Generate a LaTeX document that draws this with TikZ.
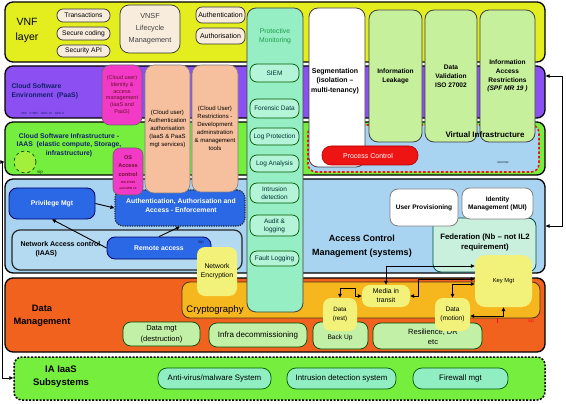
\documentclass[tikz,border=0pt]{standalone}
\usepackage{fontspec}
\setmainfont{Liberation Sans}
\usetikzlibrary{arrows.meta,calc}
\definecolor{cyel}{HTML}{E4EE1E}
\definecolor{cpur}{HTML}{8C50F2}
\definecolor{cgrn}{HTML}{76EE3E}
\definecolor{cblu}{HTML}{A8D4F2}
\definecolor{cnac}{HTML}{B4DAF2}
\definecolor{cora}{HTML}{F0621E}
\definecolor{camb}{HTML}{F6B61E}
\definecolor{cly}{HTML}{F2F27A}
\definecolor{cmint}{HTML}{96EEC4}
\definecolor{cmintp}{HTML}{B4F4D8}
\definecolor{clg}{HTML}{C6F09C}
\definecolor{cpink}{HTML}{F23AC6}
\definecolor{csal}{HTML}{F6C09E}
\definecolor{cbbox}{HTML}{2A68E6}
\definecolor{ccream}{HTML}{F8ECDC}
\definecolor{cpillg}{HTML}{C2F0A6}
\definecolor{cpilli}{HTML}{90EEC2}
\definecolor{cnavy}{HTML}{10206A}
\definecolor{cfed}{HTML}{C8F0DC}
\definecolor{cmaroon}{HTML}{701030}
\definecolor{ctxtg}{HTML}{1E9A4A}
\definecolor{cpred}{HTML}{EE1414}
\definecolor{csipc}{HTML}{A4EE3C}
\newcommand{\fsz}[2]{\fontsize{#1}{#2}\selectfont}
\newcommand{\mybox}[7]{\node[#2, inner sep=0pt, minimum width={(#5-#3)*1pt}, minimum height={(#6-#4)*1pt}] (#1) at ({(#3+#5)/2},{(#4+#6)/2}) {#7};}
\begin{document}
\begin{tikzpicture}[x=1pt,y=-1pt,
  every node/.style={align=center},
  lay/.style={draw=black, line width=1.3pt, rounded corners=8pt},
  col/.style={draw=black!75, line width=0.8pt, rounded corners=9pt},
  infocol/.style={col, fill=clg, font=\bfseries\fsz{6.6}{8.8}},
  ypill/.style={draw=black!80, line width=0.7pt, fill=ccream, rounded corners=6pt, font=\fsz{6.7}{8}},
  pmpill/.style={draw=green!35!black, line width=0.7pt, fill=cmintp, rounded corners=7pt, font=\fsz{6.5}{7.8}, text=teal!40!black},
  opill/.style={draw=green!30!black, line width=0.7pt, fill=cpillg, rounded corners=8pt, font=\fsz{7.5}{10.5}},
  ipill/.style={draw=green!35!black, line width=0.7pt, fill=cpilli, rounded corners=9pt, font=\fsz{7.9}{9}},
  bluebox/.style={draw=black!60!blue, line width=0.8pt, fill=cbbox, rounded corners=8pt, text=white, font=\bfseries\fsz{6.8}{8}},
  whitebox/.style={draw=black!50, line width=0.8pt, fill=white, rounded corners=8pt, font=\bfseries\fsz{6.6}{8}},
  ybox/.style={fill=cly, rounded corners=8pt},
  arrowtip/.tip={Triangle[length=4pt,width=3.6pt]},
  arr/.style={line width=0.9pt, -arrowtip},
  arr2/.style={line width=0.9pt, arrowtip-arrowtip}]
\useasboundingbox (0,0) rectangle (566,404);
% ---------- layers ----------
\mybox{Lyel}{lay,fill=cyel}{5}{2}{545}{62}{}
\mybox{Lpur}{lay,fill=cpur}{5}{66}{545}{118}{}
\mybox{Lgrn}{lay,fill=cgrn}{5}{122}{545}{175}{}
\mybox{Lblu}{lay,fill=cblu}{5}{179}{545}{273}{}
\mybox{Lora}{lay,fill=cora}{5}{278}{545}{352}{}
\mybox{Liaa}{draw=black, line width=1.5pt, dash pattern=on 2pt off 1.5pt, rounded corners=8pt, fill=cgrn}{14}{357}{545}{400}{}
% cryptography band
\mybox{crypt}{draw=black!60!brown, line width=0.8pt, fill=camb, rounded corners=8pt}{182}{282}{540}{318}{}
\node[font=\fsz{9.5}{11}] (crypttxt) at (215,310) {Cryptography};
% virtual infrastructure
\mybox{vi}{draw=cpred, line width=1.6pt, dash pattern=on 2.5pt off 2pt, fill=cblu, rounded corners=8pt}{308}{125}{539}{172}{}
% ---------- columns ----------
\mybox{pmcol}{col, fill=cmint}{247}{8}{303}{312}{}
\node[font=\fsz{6.8}{9}, text=ctxtg] (pmtitle) at (275,36) {Protective\\Monitoring};
\mybox{seg}{col, fill=white}{309}{8}{365}{167}{}
\node[font=\bfseries\fsz{7}{9.5}] (segtxt) at (335,81) {Segmentation\\(isolation --\\multi-tenancy)};
\mybox{leak}{infocol}{369}{10}{422}{142}{Information\\Leakage}
\mybox{valid}{infocol}{425}{10}{477}{142}{Data\\Validation\\ISO 27002}
\mybox{access}{infocol}{480}{10}{535}{142}{Information\\Access\\Restrictions\\\textit{(SPF MR 19 )}}
\node[font=\bfseries\fsz{8}{9}] (vitxt) at (485,135) {Virtual Infrastructure};
\node[font=\fsz{2.5}{3}] (visio) at (503,163) {ISO27002};
\mybox{proc}{fill=cpred, draw=red!70!black, line width=0.6pt, rounded corners=9pt}{322}{146}{418}{165}{}
\node[font=\fsz{7}{8}, text=white] (proctxt) at (368,155.5) {Process Control};
% protective monitoring pills
\mybox{siem}{pmpill}{250}{64}{299}{82}{SIEM}
\mybox{foren}{pmpill}{250}{99}{299}{118}{Forensic Data}
\mybox{logp}{pmpill}{250}{128}{299}{145}{Log Protection}
\mybox{loga}{pmpill}{250}{155}{299}{172}{Log Analysis}
\mybox{intr}{pmpill}{250}{183}{299}{203}{Intrusion\\detection}
\mybox{audit}{pmpill}{250}{215}{299}{236}{Audit \&\\logging}
\mybox{fault}{pmpill}{250}{251}{299}{266}{Fault Logging}
% ---------- VNF layer ----------
\node[font=\fsz{10.5}{15}] (vnf) at (27,30) {VNF\\layer};
\mybox{trans}{ypill}{57}{9}{110}{22}{Transactions}
\mybox{secc}{ypill}{57}{27}{110}{40}{Secure coding}
\mybox{sapi}{ypill}{57}{45}{110}{57}{Security API}
\mybox{vnsf}{draw=black!80, line width=0.7pt, fill=ccream, rounded corners=9pt, font=\fsz{7.3}{12}, text=black!75}{120}{5}{180}{53}{VNSF\\Lifecycle\\Management}
\mybox{authn}{ypill, font=\fsz{7}{8}}{196}{7}{245}{23}{Authentication}
\mybox{autho}{ypill, font=\fsz{7}{8}}{196}{28}{245}{44}{Authorisation}
% ---------- PaaS layer ----------
\node[anchor=west, align=left, font=\bfseries\fsz{6.8}{9}, text=cnavy] (paas) at (8,91) {Cloud Software\\Environment\ \ (PaaS)};
\node[anchor=west, font=\fsz{3}{3.5}, text=cnavy] (paasiso) at (18,113) {ISO\quad 27002\quad GPG 13\quad GPG 6};
% ---------- IaaS layer ----------
\node[font=\bfseries\fsz{6.8}{8.6}, text=cnavy] (iaas) at (69,145) {Cloud Software Infrastructure -\\IAAS\ \ (elastic compute, Storage,\\infrastructure)};
\node[circle, draw=green!30!black, dashed, line width=0.7pt, fill=csipc, minimum size=22pt, inner sep=0pt] (sipc) at (25,162) {};
\node[font=\fsz{4.5}{5}, text=green!30!black] (sipa) at (40,172) {sip};
% ---------- access control layer ----------
\mybox{authenf}{draw=black!85, line width=1.2pt, dash pattern=on 1.2pt off 1.2pt, fill=cbbox, rounded corners=8pt}{115}{190}{245}{226}{}
\node[font=\bfseries\fsz{6.8}{9}, text=white] (authenftxt) at (181,206) {Authentication, Authorisation and\\Access - Enforcement};
\mybox{nac}{draw=black!85, line width=1.2pt, fill=cnac, rounded corners=8pt}{12}{230}{242}{270}{}
\node[anchor=west, align=left, font=\bfseries\fsz{7}{8.5}] (nactxt) at (17,249) {Network Access control\\\hspace*{15pt}(IAAS)};
% pink and salmon boxes
\mybox{idam}{draw=black!60, line width=0.6pt, fill=cpink, rounded corners=8pt, font=\fsz{5.5}{6.8}, text=cmaroon}{102}{65}{142}{125}{(Cloud user)\\Identity \&\\access\\management\\(IaaS and\\PaaS)}
\mybox{cauth}{draw=black!50, line width=0.6pt, fill=csal, rounded corners=9pt, font=\fsz{6}{8}}{145}{65}{190}{193}{(Cloud user)\\Authentication\\authorisation\\(IaaS \& PaaS\\mgt services)}
\mybox{crestr}{draw=black!50, line width=0.6pt, fill=csal, rounded corners=9pt, font=\fsz{6}{8}}{192}{65}{238}{192}{(Cloud User)\\Restrictions -\\Development\\adminstration\\\& management\\tools}
\mybox{osac}{draw=black!60, line width=0.6pt, fill=cpink, rounded corners=7pt}{113}{148}{143}{195}{}
\node[font=\bfseries\fsz{5.5}{8.3}, text=cmaroon] (osactxt) at (128,166) {OS\\Access\\control};
\node[font=\bfseries\fsz{3}{5.5}, text=cmaroon] (osaciso) at (128,185.5) {ISO 27002\\and GPG 13};
\mybox{priv}{bluebox}{9}{188}{95}{219}{Privilege Mgt}
\mybox{rmt}{bluebox}{107}{237}{211}{259}{Remote access}
\node[font=\fsz{4.5}{5}, text=cnavy] (sipb) at (201,242) {sip};
\mybox{netenc}{ybox, font=\fsz{6.8}{9}}{197}{247}{237}{296}{Network\\Encryption}
\node[font=\bfseries\fsz{9}{14}] (acm) at (362,246) {Access Control\\Management (systems)};
\mybox{fed}{draw=teal!60!black, line width=0.8pt, fill=cfed, rounded corners=8pt}{433}{218}{536}{272}{}
\node[font=\bfseries\fsz{7.8}{10}] (fedtxt) at (485,242) {Federation (Nb -- not IL2\\requirement)};
\mybox{uprov}{whitebox}{390}{189}{458}{226}{User Provisioning}
\mybox{idm}{whitebox}{462}{188}{533}{219}{Identity\\Management (MUI)}
% ---------- data management layer ----------
\node[font=\bfseries\fsz{9.3}{13}] (dm) at (42,316) {Data\\Management};
\mybox{dmgt}{opill}{123}{322}{200}{346}{Data mgt\\(destruction)}
\mybox{infra}{opill, font=\fsz{8}{9}}{209}{323}{307}{347}{Infra decommissioning}
\mybox{backup}{opill}{313}{322}{368}{349}{}
\node[font=\fsz{6.6}{8}] (backuptxt) at (340,338) {Back Up};
\mybox{resil}{opill}{373}{323}{482}{349}{}
\node[font=\fsz{7.5}{10.5}] (resiltxt) at (433,337) {Resilience, DR\\etc};
\mybox{key}{ybox, rounded corners=10pt, font=\fsz{5.8}{7}}{475}{255}{532}{307}{Key Mgt}
\mybox{drest}{ybox, font=\fsz{6.2}{9}}{323}{298}{357}{331}{Data\\(rest)}
\mybox{media}{ybox, font=\fsz{6.9}{9}}{362}{285}{410}{307}{Media in\\transit}
\mybox{dmot}{ybox, font=\fsz{6.6}{9}}{435}{298}{470}{331}{Data\\(motion)}
\node[font=\fsz{4.5}{5}, text=cpred] (sipr) at (531,321) {sip};
\coordinate (rt1) at (497,318);
\coordinate (rt2) at (497,323);
\draw[cpred, line width=0.8pt] (rt1) -- (rt2);
% ---------- IA IaaS subsystems ----------
\node[font=\bfseries\fsz{9.5}{13}] (iasub) at (61,377) {IA IaaS\\Subsystems};
\mybox{antiv}{ipill}{158}{368}{271}{389}{Anti-virus/malware System}
\mybox{ids}{ipill}{287}{368}{396}{389}{Intrusion detection system}
\mybox{fw}{ipill}{413}{368}{508}{389}{Firewall mgt}
% ---------- connectors ----------
\draw[arr] (rmt.west) -- (priv.south);
\draw[arr] (priv.east) -- (authenf.west);
\draw[arr] (rmt.north) -- (authenf.south);
\coordinate (L1) at (2.5,162);
\coordinate (L2) at (2.5,378);
\draw[arr2] (Lgrn.west |- L1) -- (L1) -- (L2) -- (Liaa.west |- L2);
\coordinate (R1) at (562,76);
\coordinate (R2) at (562,226);
\draw[arr2] (Lpur.east |- R1) -- (R1) -- (R2) -- (Lblu.east |- R2);
\coordinate (k1) at (386,266);
\draw[arr2] (media.north) -- (k1) -- (k1 -| key.west);
\coordinate (k2) at (418,279);
\draw[arr2] (media.east) -- (k2 |- media.east) -- (k2) -- (k2 -| key.west);
\coordinate (k3) at (452.5,284);
\draw[arr2] (dmot.north) -- (k3) -- (k3 -| key.west);
\coordinate (k4) at (355,288);
\draw[arr2] (media.west) -- (k4 |- media.west) -- (k4) -- (k4 -| drest.north) -- (drest.north);
\coordinate (k5) at (503.5,316);
\draw[arr2] (dmot.east |- k5) -- (k5) -- (key.south);
\end{tikzpicture}
\end{document}
